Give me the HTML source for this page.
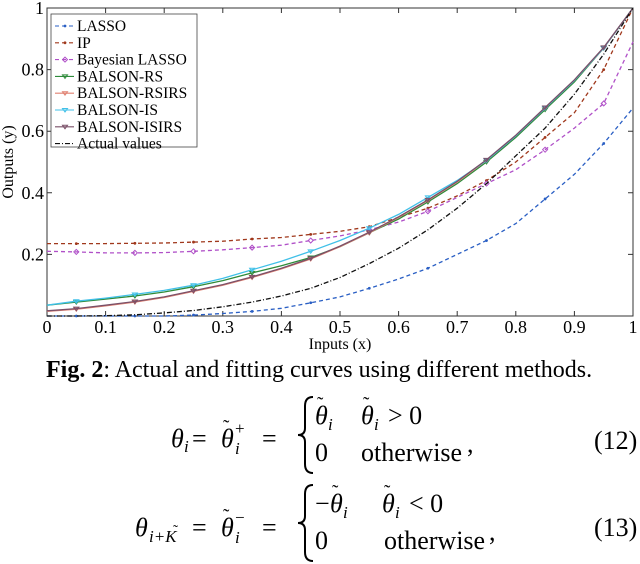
<!DOCTYPE html>
<html><head><meta charset="utf-8"><style>
html,body{margin:0;padding:0;background:#fff;}
svg{display:block;font-family:"Liberation Serif",serif;}
</style></head><body>
<svg id="fig" width="640" height="564" viewBox="0 0 640 564">
<g id="plot"></g>
<text x="46" y="377" font-size="24"><tspan font-weight="bold">Fig. 2</tspan>: Actual and fitting curves using different methods.</text>
<g font-size="26">
<text x="171" y="447" font-style="italic">θ</text><text x="184" y="452" font-size="17" font-style="italic">i</text>
<text x="192" y="447">=</text>
<text x="221" y="447" font-style="italic">θ</text><text x="223" y="433" font-size="19">˜</text>
<text x="235" y="454" font-size="17" font-style="italic">i</text><text x="235" y="434" font-size="17">+</text>
<text x="262" y="447">=</text>
<path d="M313,397 q-8,0 -8,9 v22 q0,7 -7,7 q7,0 7,7 v22 q0,9 8,9" fill="none" stroke="#000" stroke-width="2"/>
<text x="315" y="424" font-style="italic">θ</text><text x="317" y="410" font-size="19">˜</text><text x="328" y="430" font-size="17" font-style="italic">i</text>
<text x="361" y="424" font-style="italic">θ</text><text x="363" y="410" font-size="19">˜</text><text x="374" y="430" font-size="17" font-style="italic">i</text>
<text x="388" y="424">&gt; 0</text>
<text x="315" y="461">0</text><text x="361" y="461">otherwise</text><text x="467" y="452">,</text>
<text x="594" y="449">(12)</text>
</g>
<g font-size="26">
<text x="135" y="536" font-style="italic">θ</text><text x="149" y="542" font-size="17" font-style="italic">i+K</text><text x="173" y="535" font-size="15">˜</text>
<text x="192" y="536">=</text>
<text x="221" y="536" font-style="italic">θ</text><text x="223" y="522" font-size="19">˜</text>
<text x="235" y="543" font-size="17" font-style="italic">i</text><text x="235" y="523" font-size="17">−</text>
<text x="262" y="536">=</text>
<path d="M313,485 q-8,0 -8,9 v22 q0,7 -7,7 q7,0 7,7 v22 q0,9 8,9" fill="none" stroke="#000" stroke-width="2"/>
<text x="315" y="512">−</text><text x="330" y="512" font-style="italic">θ</text><text x="332" y="498" font-size="19">˜</text><text x="343" y="518" font-size="17" font-style="italic">i</text>
<text x="382" y="512" font-style="italic">θ</text><text x="384" y="498" font-size="19">˜</text><text x="395" y="518" font-size="17" font-style="italic">i</text>
<text x="409" y="512">&lt; 0</text>
<text x="315" y="549">0</text><text x="384" y="549">otherwise</text><text x="489" y="540">,</text>
<text x="594" y="536">(13)</text>
</g>
</svg>
<script>
const xs=[0,0.05,0.1,0.15,0.2,0.25,0.3,0.35,0.4,0.45,0.5,0.55,0.6,0.65,0.7,0.75,0.8,0.85,0.9,0.95,1];
const seriesNames=["LASSO","IP","Bayesian LASSO","BALSON-RS","BALSON-RSIRS","BALSON-IS","BALSON-ISIRS","Actual values"];
const lassoVals=[0,0,0,0,0,0.003,0.008,0.015,0.025,0.043,0.062,0.09,0.12,0.155,0.2,0.245,0.3,0.38,0.46,0.56,0.675];
const ipVals=[0.235,0.235,0.235,0.236,0.237,0.24,0.243,0.25,0.255,0.265,0.275,0.29,0.32,0.35,0.39,0.44,0.5,0.58,0.66,0.8,1.0];
const bayesVals=[0.21,0.208,0.205,0.205,0.206,0.21,0.215,0.222,0.23,0.245,0.26,0.28,0.305,0.34,0.385,0.43,0.475,0.54,0.61,0.69,0.89];
const rsVals=[0.035,0.045,0.055,0.065,0.078,0.095,0.115,0.14,0.163,0.19,0.225,0.27,0.315,0.37,0.43,0.5,0.58,0.67,0.76,0.87,1.0];
const rsirsVals=[0.015,0.022,0.033,0.045,0.06,0.08,0.1,0.125,0.153,0.185,0.225,0.27,0.32,0.375,0.435,0.505,0.585,0.675,0.765,0.87,1.0];
const isVals=[0.035,0.048,0.058,0.07,0.083,0.1,0.122,0.15,0.178,0.21,0.245,0.285,0.33,0.385,0.44,0.505,0.585,0.675,0.765,0.87,1.0];
const isirsVals=[0.017,0.024,0.035,0.047,0.062,0.082,0.102,0.127,0.155,0.187,0.227,0.272,0.322,0.377,0.437,0.507,0.587,0.677,0.767,0.872,1.0];
const actualVals=[0,0,0.001,0.004,0.01,0.018,0.03,0.045,0.065,0.09,0.125,0.17,0.22,0.28,0.35,0.43,0.52,0.61,0.72,0.85,1.0];
const xTicks=[0,0.1,0.2,0.3,0.4,0.5,0.6,0.7,0.8,0.9,1];
const xTickLabels=["0","0.1","0.2","0.3","0.4","0.5","0.6","0.7","0.8","0.9","1"];
const yTicks=[0.2,0.4,0.6,0.8,1];
const yTickLabels=["0.2","0.4","0.6","0.8","1"];

const NS="http://www.w3.org/2000/svg";
const L=47,R=633,T=8,B=316;
const sx=v=>L+v*(R-L), sy=v=>B-v*(B-T);
const g=document.getElementById('plot');
function mk(tag,at){const e=document.createElementNS(NS,tag);for(const k in at)e.setAttribute(k,at[k]);return e;}

const frame=mk('rect',{x:L,y:T,width:R-L,height:B-T,fill:'none',stroke:'#333','stroke-width':1});


g.appendChild(frame);

xTicks.forEach((t,i)=>{
  const a=mk('path',{d:`M${sx(t)},${B}v-5M${sx(t)},${T}v5`,stroke:'#333'});
  
  
  g.appendChild(a);
  const tx=mk('text',{x:sx(t),y:B+17,'font-size':18,'text-anchor':'middle'});
  tx.textContent=xTickLabels[i];
  
  
  g.appendChild(tx);
});
yTicks.forEach((t,i)=>{
  const a=mk('path',{d:`M${L},${sy(t)}h5M${R},${sy(t)}h-5`,stroke:'#333'});
  
  
  g.appendChild(a);
  const tx=mk('text',{x:L-3,y:sy(t)+6,'font-size':18,'text-anchor':'end'});
  tx.textContent=yTickLabels[i];
  
  
  g.appendChild(tx);
});
const xl=mk('text',{x:340,y:349,'font-size':16,'text-anchor':'middle'});
xl.textContent='Inputs (x)';


g.appendChild(xl);
const yl=mk('text',{x:0,y:0,'font-size':16,'text-anchor':'middle',transform:'translate(13,162) rotate(-90)'});
yl.textContent='Outputs (y)';


g.appendChild(yl);

const styles=[
 {v:lassoVals,c:'#2a5fc4',d:'4,3',m:'dot',n:'lasso'},
 {v:ipVals,c:'#a0381c',d:'4,3',m:'dot',n:'ip'},
 {v:bayesVals,c:'#b050c8',d:'4,3',m:'diamond',n:'bayesian-lasso'},
 {v:rsVals,c:'#2e8b3a',d:'',m:'tri',n:'balson-rs'},
 {v:rsirsVals,c:'#e08070',d:'',m:'tri',n:'balson-rsirs'},
 {v:isVals,c:'#40c0e8',d:'',m:'tri',n:'balson-is'},
 {v:isirsVals,c:'#7a5068',d:'',m:'tri',n:'balson-isirs'},
 {v:actualVals,c:'#111',d:'5,2,1,2',m:'',n:'actual-values'}
];
function marker(x,y,s){
  if(s.m==='dot')return mk('circle',{cx:x,cy:y,r:1.4,fill:s.c});
  if(s.m==='diamond')return mk('path',{d:`M${x},${y-2.5}l2.5,2.5l-2.5,2.5l-2.5,-2.5z`,fill:'none',stroke:s.c});
  if(s.m==='tri')return mk('path',{d:`M${x-2.5},${y-1.5}h5l-2.5,3.5z`,fill:'none',stroke:s.c});
  return null;
}
styles.forEach(s=>{
  const d=xs.map((x,i)=>(i?'L':'M')+sx(x).toFixed(1)+','+sy(s.v[i]).toFixed(1)).join('');
  const p=mk('path',{d:d,fill:'none',stroke:s.c,'stroke-width':1.3,'stroke-dasharray':s.d});
  
  
  g.appendChild(p);
  xs.forEach((x,i)=>{ if(i%2===1){const m=marker(sx(x),sy(s.v[i]),s); if(m){
    
    
    g.appendChild(m);}}});
});

const lg=mk('g',{});


g.appendChild(lg);
lg.appendChild(mk('rect',{x:51,y:14,width:146,height:133,fill:'#fff',stroke:'#444','stroke-width':0.8}));
styles.forEach((s,i)=>{
  const y=26+i*16.8;
  const ent=mk('g',{});
  
  
  ent.appendChild(mk('path',{d:`M55,${y}h19`,stroke:s.c,'stroke-width':1.1,'stroke-dasharray':s.d}));
  const m=marker(65,y,s); if(m)ent.appendChild(m);
  const t=mk('text',{x:77,y:y+5,'font-size':15.5});
  t.textContent=seriesNames[i];
  ent.appendChild(t);
  lg.appendChild(ent);
});
</script>
</body></html>
